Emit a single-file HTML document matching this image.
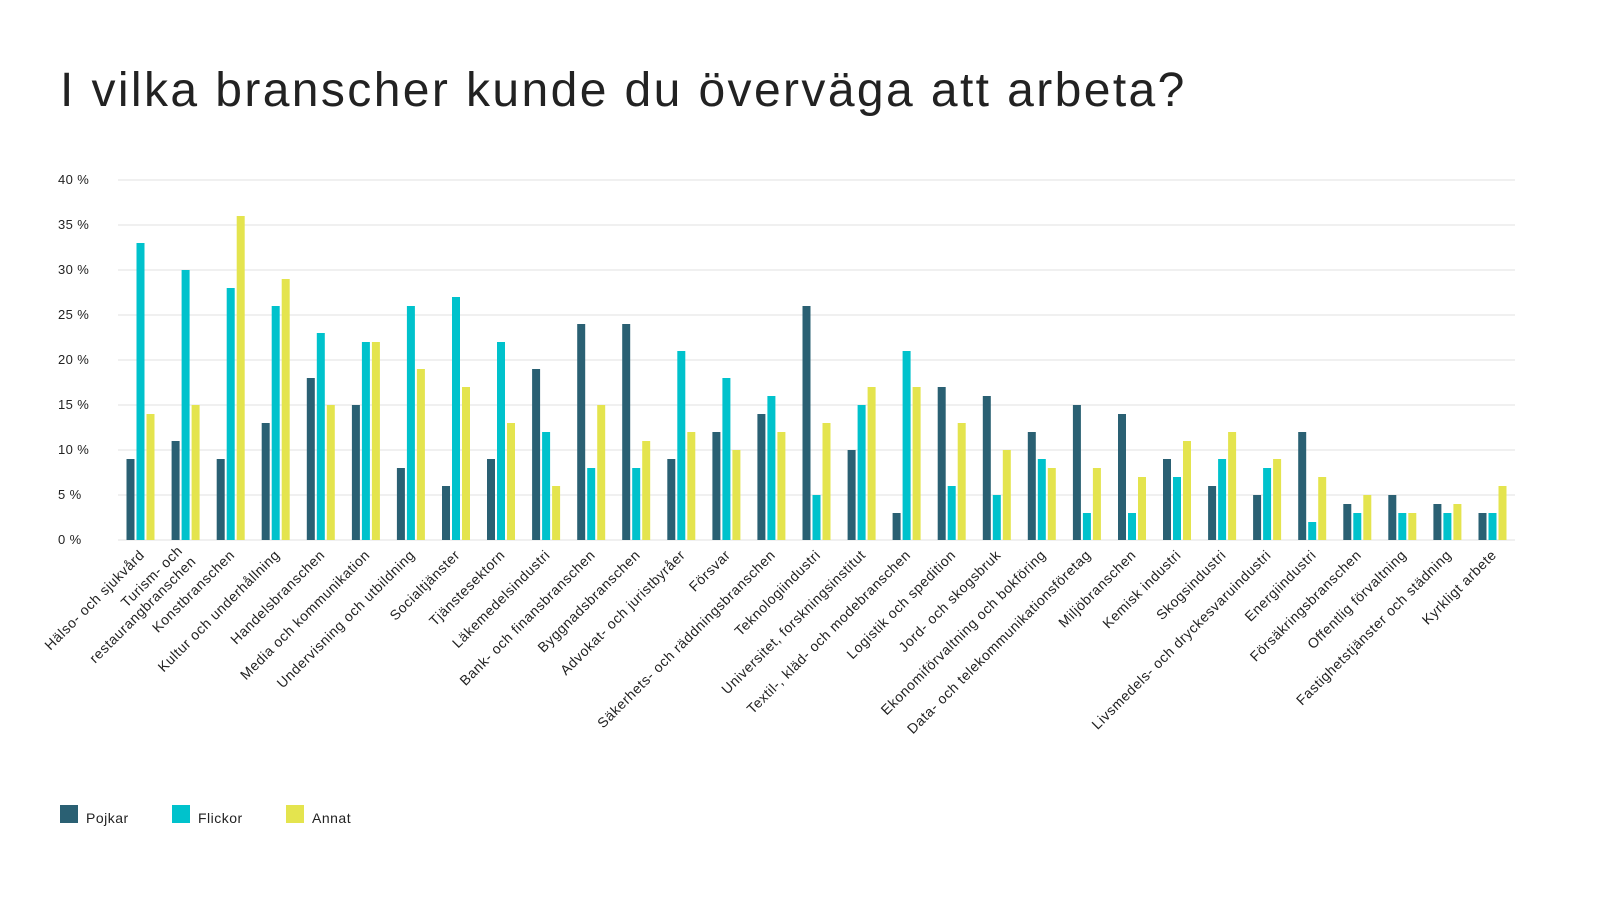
<!DOCTYPE html>
<html><head><meta charset="utf-8"><style>
body{margin:0;background:#fff;}
svg{display:block;font-family:"Liberation Sans",sans-serif;}
</style></head><body>
<svg id="s" width="1600" height="900" xmlns="http://www.w3.org/2000/svg">
<rect width="1600" height="900" fill="#fff"/>
<text x="60" y="106" font-size="48" fill="#222" letter-spacing="2.4">I vilka branscher kunde du överväga att arbeta?</text>
<g id="g"></g>
<rect x="60" y="805" width="18" height="18" fill="#2a6073"/><text x="86" y="823" font-size="14" fill="#222" letter-spacing="0.5">Pojkar</text>
<rect x="172" y="805" width="18" height="18" fill="#00c2cc"/><text x="198" y="823" font-size="14" fill="#222" letter-spacing="0.5">Flickor</text>
<rect x="286" y="805" width="18" height="18" fill="#e4e44e"/><text x="312" y="823" font-size="14" fill="#222" letter-spacing="0.5">Annat</text>
</svg>
<script>
const d=[["Hälso- och sjukvård",9,33,14],["Turism- och|restaurangbranschen",11,30,15],["Konstbranschen",9,28,36],["Kultur och underhållning",13,26,29],["Handelsbranschen",18,23,15],["Media och kommunikation",15,22,22],["Undervisning och utbildning",8,26,19],["Socialtjänster",6,27,17],["Tjänstesektorn",9,22,13],["Läkemedelsindustri",19,12,6],["Bank- och finansbranschen",24,8,15],["Byggnadsbranschen",24,8,11],["Advokat- och juristbyråer",9,21,12],["Försvar",12,18,10],["Säkerhets- och räddningsbranschen",14,16,12],["Teknologiindustri",26,5,13],["Universitet, forskningsinstitut",10,15,17],["Textil-, kläd- och modebranschen",3,21,17],["Logistik och spedition",17,6,13],["Jord- och skogsbruk",16,5,10],["Ekonomiförvaltning och bokföring",12,9,8],["Data- och telekommunikationsföretag",15,3,8],["Miljöbranschen",14,3,7],["Kemisk industri",9,7,11],["Skogsindustri",6,9,12],["Livsmedels- och dryckesvaruindustri",5,8,9],["Energiindustri",12,2,7],["Försäkringsbranschen",4,3,5],["Offentlig förvaltning",5,3,3],["Fastighetstjänster och städning",4,3,4],["Kyrkligt arbete",3,3,6]];
const c=["#2a6073","#00c2cc","#e4e44e"];
let h="";
for(let i=0;i<=8;i++){const y=540-i*45;h+=`<line x1="118" x2="1515" y1="${y}" y2="${y}" stroke="#e2e2e2" stroke-width="1"/><text x="58" y="${y+4}" font-size="13" fill="#222" letter-spacing="0.4">${i*5} %</text>`;}
const gw=(1515-118)/31;
d.forEach((r,i)=>{const cx=118+gw*(i+0.5);
for(let k=0;k<3;k++){const v=r[k+1];h+=`<rect x="${(cx-14+k*10).toFixed(1)}" y="${540-v*9}" width="8" height="${v*9}" fill="${c[k]}"/>`;}
const lines=r[0].split("|");const ax=cx+2,ay=553;
h+=`<text transform="translate(${ax.toFixed(1)},${ay}) rotate(-45)" text-anchor="end" font-size="14" fill="#222" letter-spacing="0.6">`;
lines.forEach((l,j)=>{h+=`<tspan x="${lines.length>1?(j==0?-2:0):0}" dy="${j==0?(lines.length>1?-4:4):17}">${l}</tspan>`;});
h+=`</text>`;});
document.getElementById("g").innerHTML=h;
</script>
</body></html>
